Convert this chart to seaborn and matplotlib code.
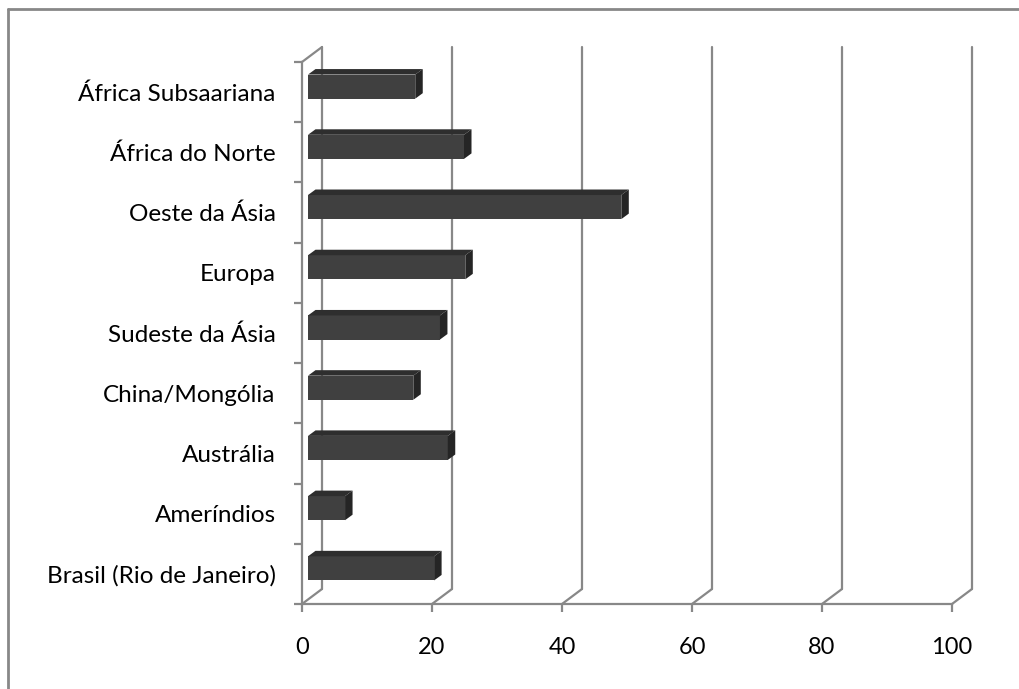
import numpy as np
import pandas as pd
import matplotlib
matplotlib.use("Agg")
import matplotlib.pyplot as plt
import seaborn as sns
from matplotlib.patches import Polygon
from matplotlib.lines import Line2D

# ---- data ----
categories = ["África Subsaariana", "África do Norte", "Oeste da Ásia", "Europa",
              "Sudeste da Ásia", "China/Mongólia", "Austrália", "Ameríndios",
              "Brasil (Rio de Janeiro)"]
values = [16.5, 24, 48.2, 24.2, 20.3, 16.2, 21.5, 5.7, 19.4]
x_ticks = [0, 20, 40, 60, 80, 100]

sns.set_theme(style="white")
plt.rcParams["font.family"] = ["Lato", "DejaVu Sans"]

W, H, DPI = 1020, 689, 100
fig = plt.figure(figsize=(W / DPI, H / DPI), dpi=DPI)
fig.patch.set_facecolor("white")

# front plane of the 3-D box
L, R, T, B = 302, 952, 62, 604
ax = fig.add_axes([L / W, (H - B) / H, (R - L) / W, (B - T) / H])
ax.set_facecolor("none")

df = pd.DataFrame({"region": categories, "value": values})
sns.barplot(data=df, x="value", y="region", orient="h", color="#404040",
            saturation=1, width=0.4, ax=ax, zorder=3)
n = len(categories)
ax.set_xlim(0, 100)
ax.set_ylim(n - 0.5, -0.5)

# pixel -> data conversion
sx = 100 / (R - L)
sy = n / (B - T)          # y axis inverted: up = negative data

grid_c = "#888888"
lw = 1.6

# depth of back wall
DX, DY = 20, 15
# bar depth offset and bar thickness
OX, OY = 6, 5.5
BX, BY = 7.5, 5.5

for p in ax.patches:
    x0, y0 = p.get_x(), p.get_y()
    w, h = p.get_width(), p.get_height()
    p.set_x(x0 + OX * sx)
    p.set_y(y0 - OY * sy)
    p.set_edgecolor("none")
    fx0 = x0 + OX * sx
    fx1 = fx0 + w
    ftop = y0 - OY * sy
    fbot = ftop + h
    bx, by = BX * sx, -BY * sy
    top = Polygon([(fx0, ftop), (fx1, ftop), (fx1 + bx, ftop + by), (fx0 + bx, ftop + by)],
                  closed=True, facecolor="#2e2e2e", edgecolor="none", zorder=3, clip_on=False)
    side = Polygon([(fx1, fbot), (fx1, ftop), (fx1 + bx, ftop + by), (fx1 + bx, fbot + by)],
                   closed=True, facecolor="#252525", edgecolor="none", zorder=3, clip_on=False)
    ax.add_patch(top)
    ax.add_patch(side)

ybot, ytop = n - 0.5, -0.5
ddx, ddy = DX * sx, -DY * sy
for xv in x_ticks:
    ax.add_line(Line2D([xv + ddx, xv + ddx], [ybot + ddy, ytop + ddy], color=grid_c,
                       lw=lw, clip_on=False, zorder=1))
    ax.add_line(Line2D([xv, xv + ddx], [ybot, ybot + ddy], color=grid_c,
                       lw=lw, clip_on=False, zorder=1))
ax.add_line(Line2D([0, ddx], [ytop, ytop + ddy], color=grid_c, lw=lw, clip_on=False, zorder=1))

for s in ["top", "right"]:
    ax.spines[s].set_visible(False)
for s in ["left", "bottom"]:
    ax.spines[s].set_color(grid_c)
    ax.spines[s].set_linewidth(lw)

ax.set_xticks(x_ticks)
ax.set_xticklabels([str(t) for t in x_ticks])
ax.tick_params(axis="x", length=6, width=lw, color=grid_c, pad=18,
               labelsize=17, labelcolor="#000000", direction="out", bottom=True)

ax.set_yticks(range(n))
ax.set_yticklabels(categories)
ax.set_yticks(np.arange(-0.5, n, 1.0), minor=True)
ax.tick_params(axis="y", which="major", length=0, pad=19, labelsize=17.5, labelcolor="#000000")
ax.tick_params(axis="y", which="minor", length=6, width=lw, color=grid_c, left=True, direction="out")
for lab in ax.get_yticklabels():
    lab.set_y(lab.get_position()[1])
ax.set_xlabel("")
ax.set_ylabel("")
ax.grid(False)

fig.add_artist(Line2D([8 / W, 1], [1 - 9 / H, 1 - 9 / H], color="#888888", lw=2,
                      transform=fig.transFigure))
fig.add_artist(Line2D([8 / W, 8 / W], [0, 1 - 9 / H], color="#888888", lw=2,
                      transform=fig.transFigure))

fig.savefig("out.png", dpi=DPI)
